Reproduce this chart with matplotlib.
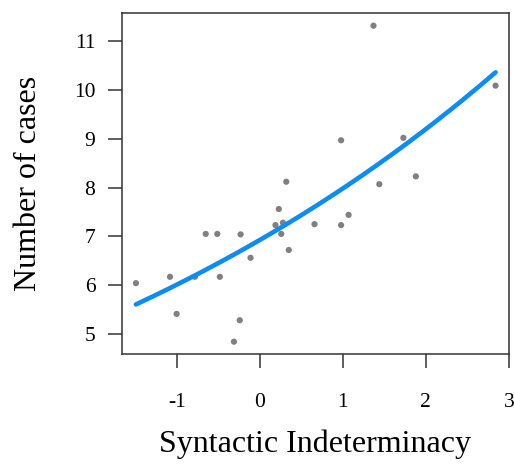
import numpy as np
import matplotlib
matplotlib.use("Agg")
import matplotlib.pyplot as plt

plt.rcParams['font.family'] = ['Liberation Serif', 'DejaVu Serif']
plt.rcParams['axes.unicode_minus'] = False

# data
indeterminacy = [-1.49, -1.08, -1.00, -0.78, -0.65, -0.51, -0.48, -0.31, -0.24, -0.23,
                 -0.11, 0.19, 0.23, 0.28, 0.26, 0.32, 0.35, 0.66, 0.98, 1.07,
                 0.98, 1.37, 1.44, 1.73, 1.88, 2.84]
cases = [6.04, 6.17, 5.41, 6.17, 7.05, 7.05, 6.17, 4.84, 5.28, 7.04,
         6.56, 7.23, 7.56, 7.28, 7.05, 8.12, 6.72, 7.25, 7.23, 7.44,
         8.97, 11.32, 8.07, 9.02, 8.23, 10.09]

# fitted curve: cases = exp(a + b * x)
fit_a = 1.935
fit_b = 0.142

x = np.array(indeterminacy)
y = np.array(cases)

fig = plt.figure(figsize=(5.14, 4.65), dpi=100)
ax = fig.add_axes([0.237, 0.239, 0.753, 0.732])

ax.scatter(x, y, s=20, color='#808080', edgecolors='none', zorder=2)

xs = np.linspace(x.min(), x.max(), 200)
ax.plot(xs, np.exp(fit_a + fit_b * xs), color='#0d8cf2', lw=3.3, solid_capstyle='round', zorder=3)

ax.set_xlim(-1.66, 3.0)
ax.set_ylim(4.59, 11.57)
ax.set_xticks([-1, 0, 1, 2, 3])
ax.set_yticks([5, 6, 7, 8, 9, 10, 11])
ax.set_xticklabels(['-1', '0', '1', '2', '3'])

for s in ax.spines.values():
    s.set_color('#333333')
    s.set_linewidth(1.1)
ax.tick_params(axis='both', length=10, width=1.1, color='#333333', labelsize=15.5)
ax.tick_params(axis='x', pad=18)
ax.tick_params(axis='y', pad=9)

ax.set_xlabel('Syntactic Indeterminacy', fontsize=23, labelpad=13)
ax.set_ylabel('Number of cases', fontsize=23, labelpad=22)

plt.savefig('out.png', dpi=100)
plt.close()
